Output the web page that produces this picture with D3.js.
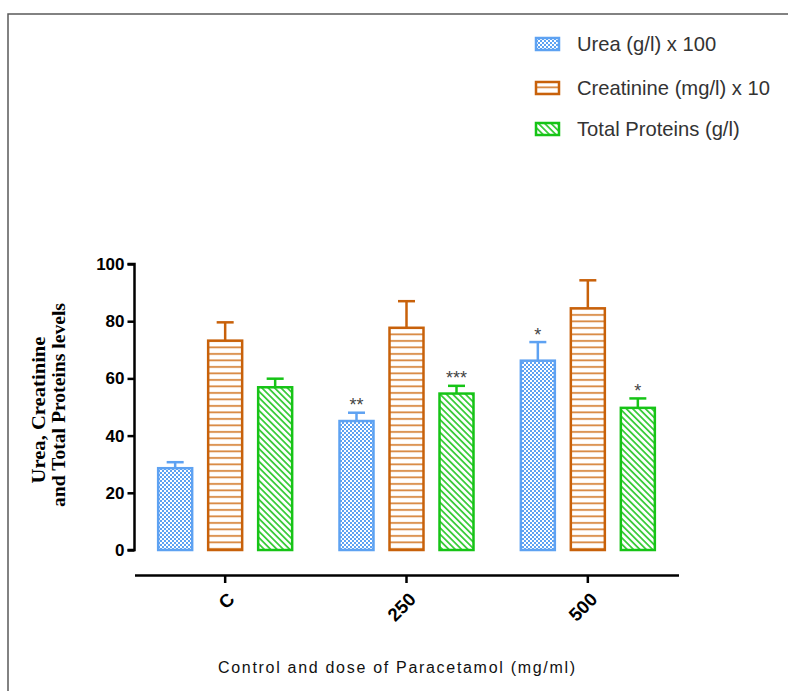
<!DOCTYPE html>
<html><head><meta charset="utf-8">
<script src="https://cdn.jsdelivr.net/npm/d3@7"></script>
<style>body{margin:0;background:#fff}svg{display:block}</style>
</head><body>
<script>
const categories = ["C", "250", "500"];
const seriesNames = ["Urea (g/l) x 100", "Creatinine (mg/l) x 10", "Total Proteins (g/l)"];
const ureaValues = [28.6, 45.1, 66.2];
const ureaErrors = [2.1, 2.9, 6.5];
const creatinineValues = [73.2, 77.7, 84.5];
const creatinineErrors = [6.4, 9.3, 9.8];
const proteinValues = [56.9, 54.7, 49.7];
const proteinErrors = [3.0, 2.7, 3.3];
const ureaStars = ["", "**", "*"];
const creatinineStars = ["", "", ""];
const proteinStars = ["", "***", "*"];
const yTicks = [0, 20, 40, 60, 80, 100];

const W = 788, H = 691;
const svg = d3.select("body").append("svg").attr("width", W).attr("height", H);

// frame
svg.append("path").attr("d", `M8,${H} L8,14 L${W},14`).attr("fill","none").attr("stroke","#5a5a5a").attr("stroke-width",1.5);

const colors = ["#5ea2f2", "#c8610a", "#16c416"];
const defs = svg.append("defs");
const p0 = defs.append("pattern").attr("id","pat0").attr("patternUnits","userSpaceOnUse").attr("width",4).attr("height",4);
p0.append("rect").attr("width",4).attr("height",4).attr("fill","#ffffff");
p0.append("rect").attr("x",0).attr("y",0).attr("width",2).attr("height",2).attr("fill",colors[0]);
p0.append("rect").attr("x",2).attr("y",2).attr("width",2).attr("height",2).attr("fill",colors[0]);
const p1 = defs.append("pattern").attr("id","pat1").attr("patternUnits","userSpaceOnUse").attr("width",8).attr("height",6.5);
p1.append("rect").attr("width",8).attr("height",6.5).attr("fill","#fff");
p1.append("rect").attr("y",2).attr("width",8).attr("height",1.8).attr("fill","#d8873f");
const p2 = defs.append("pattern").attr("id","pat2").attr("patternUnits","userSpaceOnUse").attr("width",4.5).attr("height",4.5).attr("patternTransform","rotate(-45)");
p2.append("rect").attr("width",4.5).attr("height",4.5).attr("fill","#fff");
p2.append("rect").attr("x",0).attr("width",1.8).attr("height",4.5).attr("fill","#3ccc3c");

const x0 = d3.scaleBand().domain(categories).range([134.5, 678.5]).padding(0);
const y = d3.scaleLinear().domain([0,100]).range([550, 264]);
const barW = 34, step = 50;

const series = [
  {v: ureaValues, e: ureaErrors, s: ureaStars},
  {v: creatinineValues, e: creatinineErrors, s: creatinineStars},
  {v: proteinValues, e: proteinErrors, s: proteinStars}
];

const g = svg.append("g");
series.forEach((ser, si) => {
  categories.forEach((c, ci) => {
    const cx = x0(c) + x0.bandwidth()/2 + (si-1)*step;
    const top = y(ser.v[ci]);
    const etop = y(ser.v[ci] + ser.e[ci]);
    g.append("line").attr("x1",cx).attr("x2",cx).attr("y1",top).attr("y2",etop).attr("stroke",colors[si]).attr("stroke-width",2.5);
    g.append("line").attr("x1",cx-8.5).attr("x2",cx+8.5).attr("y1",etop).attr("y2",etop).attr("stroke",colors[si]).attr("stroke-width",2.5);
    g.append("rect").attr("x",cx-barW/2).attr("y",top).attr("width",barW).attr("height",y(0)-top)
      .attr("fill",`url(#pat${si})`).attr("stroke",colors[si]).attr("stroke-width",2.5);
    if (ser.s[ci]) {
      g.append("text").attr("x",cx).attr("y",etop-1.5).attr("text-anchor","middle")
        .attr("font-family","Liberation Sans, Arial, sans-serif").attr("font-size",18).attr("fill","#444")
        .text(ser.s[ci]);
    }
  });
});

// y axis
const yAxis = svg.append("g").attr("transform","translate(134.5,0)")
  .call(d3.axisLeft(y).tickValues(yTicks).tickSize(7).tickPadding(3));
yAxis.select(".domain").attr("stroke","#000").attr("stroke-width",2.5).attr("d","M-7,264H0V550H-7");
yAxis.selectAll(".tick line").attr("stroke","#000").attr("stroke-width",2.5);
yAxis.selectAll(".tick text").attr("font-family","Liberation Sans, Arial, sans-serif").attr("font-weight","bold").attr("font-size",17).attr("fill","#000");

// x axis
const xAxis = svg.append("g").attr("transform","translate(0,575)")
  .call(d3.axisBottom(x0).tickSize(8).tickSizeOuter(0).tickPadding(4));
xAxis.select(".domain").attr("stroke","#000").attr("stroke-width",2.5);
xAxis.selectAll(".tick line").attr("stroke","#000").attr("stroke-width",2.5);
xAxis.selectAll(".tick text").attr("font-family","Liberation Sans, Arial, sans-serif").attr("font-weight","bold").attr("font-size",18.5).attr("fill","#000")
  .attr("text-anchor","end").attr("dy","0.35em").attr("y",0).attr("x",0).attr("transform","translate(6,21) rotate(-45)");

// y title
const serif = "Liberation Serif, Times New Roman, serif";
svg.append("text").attr("transform","translate(45,410) rotate(-90)")
  .attr("font-family",serif).attr("font-weight","bold").attr("font-size",19).attr("fill","#000").attr("text-anchor","middle")
  .attr("textLength",147).attr("lengthAdjust","spacingAndGlyphs")
  .text("Urea, Creatinine");
svg.append("text").attr("transform","translate(65,405) rotate(-90)")
  .attr("font-family",serif).attr("font-weight","bold").attr("font-size",19).attr("fill","#000").attr("text-anchor","middle")
  .attr("textLength",204).attr("lengthAdjust","spacingAndGlyphs")
  .text("and Total Proteins levels");

// x title
svg.append("text").attr("x",396.5).attr("y",673).attr("text-anchor","middle")
  .attr("font-family","Liberation Sans, Arial, sans-serif").attr("font-size",16).attr("fill","#111")
  .attr("textLength",357).attr("lengthAdjust","spacing")
  .text("Control and dose of Paracetamol (mg/ml)");

// legend
const legY = [44, 88, 129];
seriesNames.forEach((n, i) => {
  svg.append("rect").attr("x",536).attr("y",legY[i]-6).attr("width",23).attr("height",12)
    .attr("fill",`url(#pat${i})`).attr("stroke",colors[i]).attr("stroke-width",2.5);
  svg.append("text").attr("x",577).attr("y",legY[i]).attr("dy","0.35em")
    .attr("font-family","Liberation Sans, Arial, sans-serif").attr("font-size",20.2).attr("fill","#333").text(n);
});
</script>
</body></html>
